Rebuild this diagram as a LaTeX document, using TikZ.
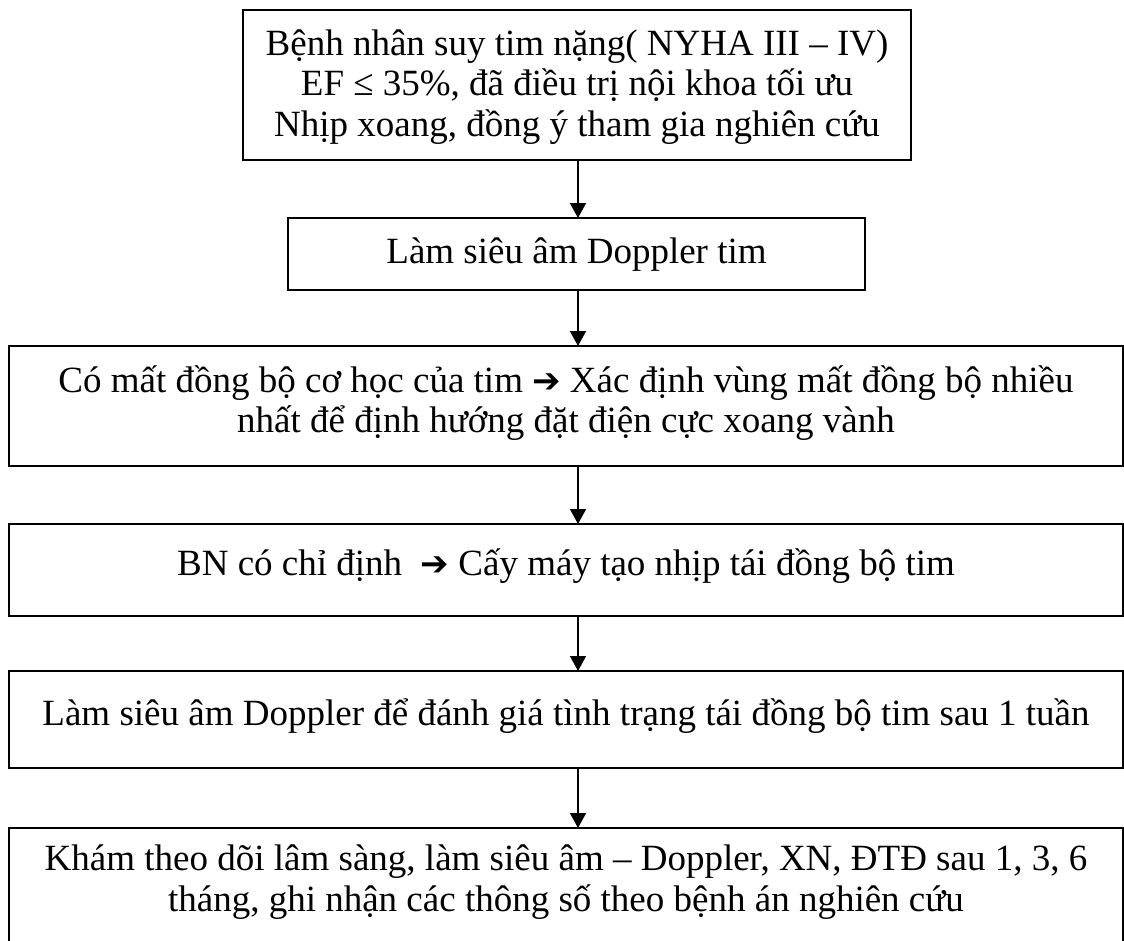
\documentclass[tikz,border=0pt]{standalone}
\usepackage{fontspec}
\setmainfont{Liberation Serif}
\newfontfamily\symfont{DejaVu Sans}
\usetikzlibrary{arrows.meta}
\tikzset{
  box/.style={draw, line width=1.5pt, inner sep=0pt, outer sep=0pt},
  txt/.style={align=center, inner sep=0pt, font=\fontsize{37}{40.5}\selectfont},
  flow/.style={line width=1.5pt, -{Triangle[length=15pt,width=16pt]}, shorten >=0pt}
}
\newcommand{\rarr}{{\symfont\fontsize{34}{36}\selectfont ➔}}
\begin{document}
\begin{tikzpicture}[x=1pt,y=-1pt]
\useasboundingbox (0,0) rectangle (1124,940);
% boxes
\node[box, minimum width=668pt, minimum height=150pt] (b1) at (577,85) {};
\node[box, minimum width=577pt, minimum height=72pt] (b2) at (576.5,254) {};
\node[box, minimum width=1114pt, minimum height=120pt] (b3) at (566,406) {};
\node[box, minimum width=1114pt, minimum height=92pt] (b4) at (566,570) {};
\node[box, minimum width=1114pt, minimum height=97pt] (b5) at (566,719.5) {};
\node[box, minimum width=1114pt, minimum height=130pt] (b6) at (566,893) {};
% texts
\node[txt] (t1) at (577,87) {Bệnh nhân suy tim nặng( NYHA III – IV)\\EF ≤ 35\%, đã điều trị nội khoa tối ưu\\Nhịp xoang, đồng ý tham gia nghiên cứu};
\node[txt] (t2) at (576.5,255) {Làm siêu âm Doppler tim};
\node[txt] (t3) at (566,403) {Có mất đồng bộ cơ học của tim \rarr{} Xác định vùng mất đồng bộ nhiều\\nhất để định hướng đặt điện cực xoang vành};
\node[txt] (t4) at (566,566) {BN có chỉ định~ \rarr{} Cấy máy tạo nhịp tái đồng bộ tim};
\node[txt] (t5) at (566,716) {Làm siêu âm Doppler để đánh giá tình trạng tái đồng bộ tim sau 1 tuần};
\node[txt] (t6) at (566,882) {Khám theo dõi lâm sàng, làm siêu âm – Doppler, XN, ĐTĐ sau 1, 3, 6\\tháng, ghi nhận các thông số theo bệnh án nghiên cứu};
% arrows
\coordinate (ax) at (578,0);
\draw[flow] (b1.south -| ax) -- (b2.north -| ax);
\draw[flow] (b2.south -| ax) -- (b3.north -| ax);
\draw[flow] (b3.south -| ax) -- (b4.north -| ax);
\draw[flow] (b4.south -| ax) -- (b5.north -| ax);
\draw[flow] (b5.south -| ax) -- (b6.north -| ax);
\end{tikzpicture}
\end{document}
